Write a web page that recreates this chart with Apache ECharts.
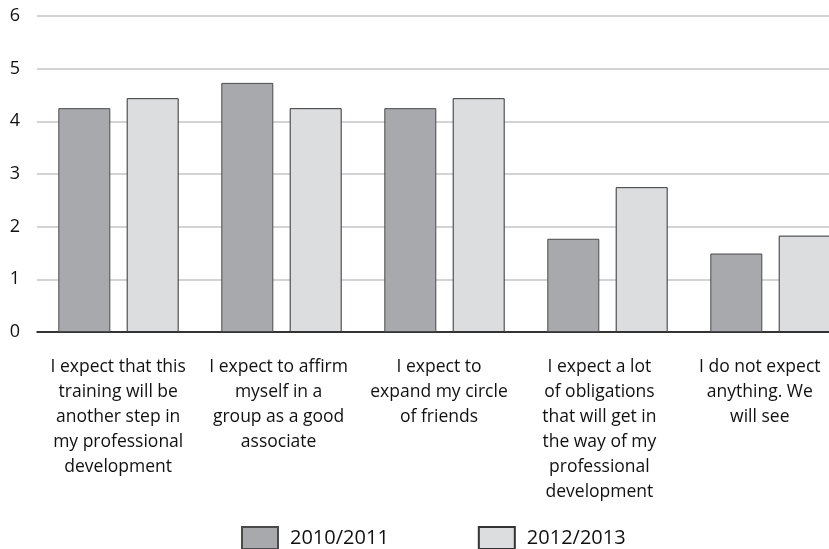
<!DOCTYPE html>
<html>
<head>
<meta charset="utf-8">
<script src="https://cdn.jsdelivr.net/npm/echarts@6/dist/echarts.min.js"></script>
<style>
html,body{margin:0;padding:0;background:#fff;width:829px;height:549px;overflow:hidden;}
#c{width:860px;height:549px;}
</style>
</head>
<body>
<div id="c"></div>
<script>
var categories = [
  "I expect that this\ntraining will be\nanother step in\nmy professional\ndevelopment",
  "I expect to affirm\nmyself in a\ngroup as a good\nassociate",
  "I expect to\nexpand my circle\nof friends",
  "I expect a lot\nof obligations\nthat will get in\nthe way of my\nprofessional\ndevelopment",
  "I do not expect\nanything. We\nwill see"
];
var seriesNames = ["2010/2011", "2012/2013"];
var values2010 = [4.25, 4.73, 4.25, 1.77, 1.49];
var values2012 = [4.44, 4.25, 4.44, 2.75, 1.83];
var yTicks = [0, 1, 2, 3, 4, 5, 6];

var chart = echarts.init(document.getElementById('c'), null, {renderer: 'canvas'});
var font = "'Open Sans', 'Noto Sans', sans-serif";
chart.setOption({
  animation: false,
  backgroundColor: '#ffffff',
  textStyle: {fontFamily: font},
  grid: [
    {left: 37, right: 8, top: 16, bottom: 217, containLabel: false},
    {left: 38, width: 802, top: 16, bottom: 217, containLabel: false}
  ],
  legend: {
    left: 236, top: 521,
    icon: 'rect',
    itemWidth: 36, itemHeight: 22, itemGap: 89,
    textStyle: {fontSize: 20, color: '#111', fontFamily: font, padding: [0, 0, 0, 7]},
    data: seriesNames
  },
  xAxis: [
    {
      type: 'category',
      gridIndex: 0,
      data: categories,
      axisTick: {show: false},
      axisLine: {lineStyle: {color: '#000', width: 1.5}},
      axisLabel: {show: false}
    },
    {
      type: 'category',
      gridIndex: 1,
      data: categories,
      axisTick: {show: false},
      axisLine: {show: false},
      splitLine: {show: false},
      axisLabel: {interval: 0, fontSize: 17.5, lineHeight: 25, color: '#111', margin: 23, fontFamily: font}
    }
  ],
  yAxis: [
    {
      type: 'value',
      gridIndex: 0,
      min: yTicks[0], max: yTicks[yTicks.length - 1], interval: 1,
      axisLine: {show: false},
      axisTick: {show: false},
      splitLine: {lineStyle: {color: '#c4c4c4', width: 1.5}},
      axisLabel: {fontSize: 18, color: '#111', margin: 17, fontFamily: font}
    },
    {
      type: 'value',
      gridIndex: 1,
      min: yTicks[0], max: yTicks[yTicks.length - 1],
      show: false
    }
  ],
  series: [
    {
      name: seriesNames[0], type: 'bar', data: values2010,
      xAxisIndex: 0, yAxisIndex: 0,
      barWidth: 52, barGap: '31.5%',
      itemStyle: {color: '#a8a9ac', borderColor: '#4a4a4a', borderWidth: 1}
    },
    {
      name: seriesNames[1], type: 'bar', data: values2012,
      xAxisIndex: 0, yAxisIndex: 0,
      barWidth: 52, barGap: '31.5%',
      itemStyle: {color: '#dcdddf', borderColor: '#333333', borderWidth: 1}
    }
  ]
});
</script>
</body>
</html>
